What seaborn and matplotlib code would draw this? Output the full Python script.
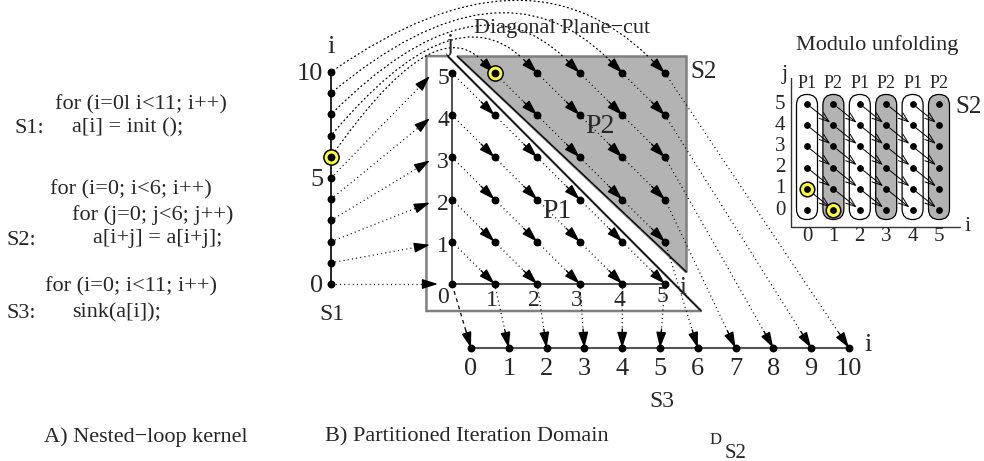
#%%
import numpy as np
import pandas as pd
import matplotlib.pyplot as plt
import matplotlib.patches as mpatches
import seaborn as sns

sns.set_theme(style='white')
plt.rcParams['font.family'] = ['Liberation Serif', 'DejaVu Serif']

#%% data
code_text = ['for (i=0l i<11; i++)', 'S1:', 'a[i] = init ();',
             'for (i=0; i<6; i++)', 'for (j=0; j<6; j++)', 'S2:', 'a[i+j] = a[i+j];',
             'for (i=0; i<11; i++)', 'S3:', 'sink(a[i]);']
captions = ['A) Nested\u2212loop kernel', 'B) Partitioned Iteration Domain']
s1_idx = list(range(11))
s1_ticks = [0, 5, 10]
grid_i = list(range(6))
grid_j = list(range(6))
s3_idx = list(range(11))
hl_s1 = [6]
hl_grid = [(1, 5)]
mod_i = list(range(6))
mod_j = list(range(6))
mod_parts = ['P1', 'P2', 'P1', 'P2', 'P1', 'P2']
hl_mod = [(0, 1), (1, 0)]

#%% layout (pixel space)
code_pos = [(55, 105), (14, 128), (72, 128), (50, 190), (72, 215), (7, 240),
            (93, 238), (45, 287), (7, 313), (72, 313)]

def s1(i):
    return np.array([331.0, 284 - 21.2 * i])

def gp(i, j):
    return np.array([452 + 42.6 * i, 284 - 42.2 * j])

def s3(k):
    return np.array([471 + 37.8 * k, 348.0])

def mo(i, j):
    return np.array([807 + 26.4 * i, 210 - 21.2 * j])

p1_region = [(-0.6, 5.4), (-0.1, 5.4), (5.85, -0.64), (-0.6, -0.64)]
p2_region = [(0.12, 5.4), (5.5, 5.4), (5.5, 0.29)]

GRAY = '#b3b3b3'
EDGE = '#7f7f7f'
DOT = (0, (0.8, 2.6))

fig = plt.figure(figsize=(9.84, 4.61), dpi=100)
ax = fig.add_axes([0, 0, 1, 1])


def head(tip, frm, L=19, scale=10):
    tip = np.asarray(tip, float)
    frm = np.asarray(frm, float)
    u = (tip - frm) / np.hypot(*(tip - frm))
    ax.annotate('', xy=tip, xytext=tip - L * u,
                arrowprops=dict(arrowstyle='-|>,head_length=0.95,head_width=0.3',
                                color='black', lw=1.0, shrinkA=0, shrinkB=0,
                                mutation_scale=scale), zorder=4)
    return tip - L * u


def dotted(a, b, ls=DOT):
    ax.plot([a[0], b[0]], [a[1], b[1]], color='black', lw=0.9, ls=ls, zorder=2)


#%% code + captions
for t, (x, y) in zip(code_text, code_pos):
    ax.text(x, y, t, fontsize=16, ha='left', va='center')
ax.text(44, 437, captions[0], fontsize=16, ha='left', va='center')
ax.text(325, 437, captions[1], fontsize=16, ha='left', va='center')
ax.text(716, 440, 'D', fontsize=12, ha='center', va='center')
ax.text(736, 453, 'S2', fontsize=15, ha='center', va='center')

#%% partition regions
ax.add_patch(mpatches.Polygon([gp(*p) for p in p1_region], closed=True,
                              facecolor='white', edgecolor=EDGE, lw=1.8, zorder=0))
ax.add_patch(mpatches.Polygon([gp(*p) for p in p2_region], closed=True,
                              facecolor=GRAY, edgecolor=EDGE, lw=1.8, zorder=0))
a, b = gp(*p1_region[1]), gp(*p1_region[2])
ax.plot([a[0], b[0]], [a[1], b[1]], color='black', lw=0.9, zorder=1)
a, b = gp(*p2_region[0]), gp(*p2_region[2])
ax.plot([a[0], b[0]], [a[1], b[1]], color='black', lw=0.9, zorder=1)

# axes lines
ax.plot(*zip(s1(0), s1(10)), color='black', lw=1.2, zorder=1)
ax.plot(*zip(gp(0, 0), gp(0, 5)), color='#333333', lw=1.2, zorder=1)
ax.plot(*zip(gp(0, 0), gp(5, 0)), color='#333333', lw=1.2, zorder=1)
ax.plot(*zip(s3(0), s3(10)), color='#555555', lw=1.5, zorder=1)

#%% dependences
for k in s3_idx:
    diag = [(i, k - i) for i in grid_i if 0 <= k - i <= 5]
    first = diag[0]
    if k <= 5:
        end = np.array([430.0, gp(0, k)[1] + 3]) if k > 0 else np.array([438.0, 284.0])
        tail = head(end, s1(k), L=14)
        dotted(s1(k), tail)
    else:
        tip = gp(*first)
        tail = head(tip, gp(first[0] - 1, first[1] + 1))
        angA = 55 - 5 * (k - 6)
        ax.add_patch(mpatches.FancyArrowPatch(s1(k), tail, arrowstyle='-',
                                              connectionstyle='angle3,angleA=%d,angleB=-45' % angA,
                                              color='black', lw=0.9, ls=DOT, zorder=2))
    for (ia, ja), (ib, jb) in zip(diag[:-1], diag[1:]):
        tail = head(gp(ib, jb), gp(ia, ja))
        dotted(gp(ia, ja), tail)
    last = gp(*diag[-1])
    tail = head(s3(k), last)
    dotted(last, tail, ls=(0, (3, 3)) if k == 0 else DOT)

#%% dots
pts = [s1(i) for i in s1_idx] + [gp(i, j) for i in grid_i for j in grid_j] + [s3(k) for k in s3_idx]
df = pd.DataFrame(pts, columns=['x', 'y'])
hl = pd.DataFrame([s1(i) for i in hl_s1] + [gp(i, j) for i, j in hl_grid], columns=['x', 'y'])
sns.scatterplot(data=hl, x='x', y='y', s=120, color='#ffff33', edgecolor='black',
                linewidth=1.1, ax=ax, zorder=5, legend=False)
sns.scatterplot(data=df, x='x', y='y', s=32, color='black', linewidth=0,
                ax=ax, zorder=6, legend=False)

#%% labels main
for t in s1_ticks:
    ax.text(323, s1(t)[1] + 2, str(t), fontsize=19, ha='right', va='center')
ax.text(331, 47, 'i', fontsize=19, ha='center', va='center')
ax.text(332, 314, 'S1', fontsize=17, ha='center', va='center')
for j in grid_j[1:]:
    ax.text(449, gp(0, j)[1] + 5, str(j), fontsize=17, ha='right', va='center')
ax.text(443, 297, '0', fontsize=17, ha='center', va='center')
for i in grid_i[1:]:
    ax.text(gp(i, 0)[0] - 3, 300 if i < 5 else 296, str(i), fontsize=17, ha='center', va='center')
ax.text(450, 45, 'j', fontsize=18, ha='center', va='center')
ax.text(683, 288, 'i', fontsize=18, ha='center', va='center')
ax.text(690, 72, 'S2', fontsize=18, ha='left', va='center')
ax.text(600, 126, 'P2', fontsize=20, ha='center', va='center')
ax.text(557, 211, 'P1', fontsize=20, ha='center', va='center')
ax.text(474, 29, 'Diagonal Plane\u2212cut', fontsize=16, ha='left', va='center')
for k in s3_idx:
    ax.text(s3(k)[0], 369, str(k), fontsize=19, ha='center', va='center')
ax.text(868, 345, 'i', fontsize=19, ha='center', va='center')
ax.text(662, 401, 'S3', fontsize=17, ha='center', va='center')

#%% modulo unfolding inset
ax.text(877, 45, 'Modulo unfolding', fontsize=16, ha='center', va='center')
ax.plot([791, 791, 960], [78, 227, 227], color='#333333', lw=1.0, zorder=1)
ax.text(785, 75, 'j', fontsize=16, ha='center', va='center')
ax.text(968, 226, 'i', fontsize=16, ha='center', va='center')
for i, p in zip(mod_i, mod_parts):
    x = mo(i, 0)[0]
    top = mo(i, 5.45)[1]
    bot = mo(i, -0.45)[1]
    ax.add_patch(mpatches.FancyBboxPatch((x - 10.5, top), 21, bot - top,
                                         boxstyle='round,pad=0,rounding_size=10.5',
                                         facecolor=GRAY if p == 'P2' else 'white',
                                         edgecolor='black', lw=0.9, zorder=1))
    ax.text(x, 83, p, fontsize=13, ha='center', va='center')
    ax.text(x, 236, str(i), fontsize=15, ha='center', va='center')
for j in mod_j:
    ax.text(780, mo(0, j)[1], str(j), fontsize=15, ha='center', va='center')
ax.text(955, 107, 'S2', fontsize=18, ha='left', va='center')
for i in mod_i[:-1]:
    for j in mod_j[1:]:
        ax.annotate('', xy=mo(i + 1, j - 1), xytext=mo(i, j),
                    arrowprops=dict(arrowstyle='->,head_length=0.7,head_width=0.25',
                                    color='black', lw=0.7, shrinkA=3, shrinkB=3,
                                    mutation_scale=10), zorder=3)
mdf = pd.DataFrame([mo(i, j) for i in mod_i for j in mod_j], columns=['x', 'y'])
mhl = pd.DataFrame([mo(i, j) for i, j in hl_mod], columns=['x', 'y'])
sns.scatterplot(data=mhl, x='x', y='y', s=110, color='#ffff33', edgecolor='black',
                linewidth=1.1, ax=ax, zorder=5, legend=False)
sns.scatterplot(data=mdf, x='x', y='y', s=24, color='black', linewidth=0,
                ax=ax, zorder=6, legend=False)

ax.set_xlim(0, 984)
ax.set_ylim(461, 0)
ax.set_axis_off()
fig.savefig('out.png', dpi=100)
